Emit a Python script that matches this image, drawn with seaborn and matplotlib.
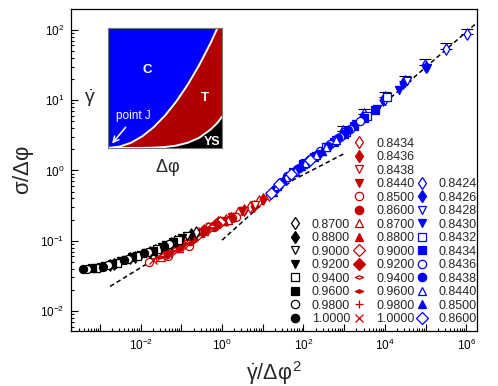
import numpy as np
import matplotlib
matplotlib.use('Agg')
import matplotlib.pyplot as plt
from matplotlib.lines import Line2D
from matplotlib.ticker import LogLocator, FuncFormatter, NullFormatter
import seaborn as sns

# ---- data ----
# black group (phi = 0.87 ... 1.0)
black_labels = ['0.8700', '0.8800', '0.9000', '0.9200', '0.9400', '0.9600', '0.9800', '1.0000']
black_x = [[2.24e-3, 7.1e-3, 0.0224, 0.071, 0.224],
           [1.74e-3, 5.5e-3, 0.0174, 0.055, 0.174],
           [1.35e-3, 4.3e-3, 0.0135, 0.043, 0.135],
           [1.05e-3, 3.3e-3, 0.0105, 0.033, 0.105],
           [8.1e-4, 2.57e-3, 8.1e-3, 0.0257, 0.081],
           [6.3e-4, 2.0e-3, 6.3e-3, 0.020, 0.063],
           [4.9e-4, 1.55e-3, 4.9e-3, 0.0155, 0.049],
           [3.8e-4, 1.2e-3, 3.8e-3, 0.012, 0.038]]
black_y = [[0.047, 0.059, 0.074, 0.098, 0.132],
           [0.045, 0.056, 0.069, 0.092, 0.123],
           [0.044, 0.054, 0.066, 0.087, 0.115],
           [0.043, 0.051, 0.063, 0.081, 0.108],
           [0.041, 0.048, 0.060, 0.076, 0.102],
           [0.041, 0.046, 0.058, 0.072, 0.095],
           [0.040, 0.045, 0.055, 0.069, 0.089],
           [0.040, 0.043, 0.054, 0.066, 0.085]]

# red group
red_labels = ['0.8434', '0.8436', '0.8438', '0.8440', '0.8500', '0.8600', '0.8700',
              '0.8800', '0.9000', '0.9200', '0.9400', '0.9600', '0.9800', '1.0000']
red_x = [[1.26, 2.51, 5.0, 8.3, 14.1],
         [0.79, 1.66, 3.55, 6.0, 10.0],
         [0.50, 1.0, 2.0, 3.55, 6.3],
         [0.25, 0.50, 1.0, 1.78, 3.16],
         [0.016, 0.047, 0.158, 0.63, 2.24],
         [0.112, 0.224, 0.447, 0.89, 1.78],
         [0.032, 0.089, 0.355, 0.71, 1.41],
         [0.071, 0.141, 0.28, 0.56, 1.12],
         [0.056, 0.112, 0.224, 0.447, 0.89],
         [0.045, 0.089, 0.178, 0.355, 0.71],
         [0.035, 0.071, 0.141, 0.28, 0.56],
         [0.028, 0.056, 0.112, 0.224, 0.447],
         [0.024, 0.048, 0.095, 0.19, 0.38],
         [0.020, 0.040, 0.079, 0.158, 0.316]]
red_y = [[0.20, 0.245, 0.30, 0.363, 0.447],
         [0.182, 0.214, 0.275, 0.316, 0.389],
         [0.158, 0.186, 0.219, 0.269, 0.324],
         [0.123, 0.158, 0.191, 0.219, 0.263],
         [0.050, 0.060, 0.085, 0.158, 0.219],
         [0.091, 0.120, 0.151, 0.186, 0.214],
         [0.058, 0.079, 0.138, 0.174, 0.20],
         [0.078, 0.100, 0.129, 0.162, 0.191],
         [0.072, 0.091, 0.117, 0.151, 0.186],
         [0.068, 0.085, 0.107, 0.141, 0.174],
         [0.063, 0.076, 0.100, 0.132, 0.162],
         [0.059, 0.072, 0.091, 0.120, 0.151],
         [0.056, 0.069, 0.085, 0.112, 0.145],
         [0.054, 0.065, 0.079, 0.105, 0.138]]

# blue group
blue_labels = ['0.8424', '0.8426', '0.8428', '0.8430', '0.8432', '0.8434',
               '0.8436', '0.8438', '0.8440', '0.8500', '0.8600']
blue_x = [[1.02e6, 3.16e5, 9.8e4, 3.16e4, 1.0e4, 3.0e3, 955],
          [1.05e5, 2.8e4, 8.9e3, 2.8e3],
          [3.55e4, 1.0e4, 3.16e3, 1.0e3],
          [1.07e5, 2.24e4, 6.3e3, 2.0e3, 631, 200],
          [1.12e4, 3.55e3, 1.12e3, 355, 112],
          [5.6e3, 3.16e3, 1.78e3, 1.0e3, 562, 178, 100, 56],
          [2.5e3, 1.41e3, 794, 447, 251, 141, 79, 28],
          [1.26e3, 708, 398, 224, 126, 71, 40, 20],
          [631, 355, 200, 112, 63, 38, 22.4],
          [282, 89, 31.6, 17.8],
          [141, 50, 25, 15.8]]
blue_y = [[87, 54, 32, 18.6, 11.0, 6.3, 3.6],
          [30, 17.4, 10.0, 5.5],
          [18.6, 9.8, 5.6, 3.16],
          [28.3, 13.8, 7.6, 4.6, 2.7, 1.62],
          [11.0, 6.0, 3.55, 2.14, 1.29],
          [7.2, 5.6, 4.3, 3.3, 2.57, 1.55, 1.23, 0.95],
          [5.1, 3.9, 3.0, 2.34, 1.86, 1.45, 1.10, 0.68],
          [3.7, 2.88, 2.24, 1.74, 1.35, 1.05, 0.83, 0.55],
          [2.75, 2.14, 1.66, 1.29, 0.98, 0.81, 0.60],
          [1.91, 1.15, 0.74, 0.50],
          [1.41, 0.89, 0.65, 0.47]]
blue_err_up = [17, 11, 6.5, 3.7, 2.2, 1.3, 0.7]

# dashed guide lines
guide1_x, guide1_y = [1.78e-3, 0.017], [0.0224, 0.050]
guide2_x, guide2_y = [1.0, 13.8, 55.6, 1050], [0.102, 0.40, 0.73, 1.76]
guide3_x, guide3_y = [1.0e4, 2.0e6], [9.2, 132]

# inset phase boundaries
inset_x = [0, 0.1, 0.2, 0.3, 0.4, 0.5, 0.6, 0.7, 0.8, 0.9, 0.96, 1.0]
inset_upper = [0, 0.011, 0.043, 0.097, 0.173, 0.27, 0.389, 0.529, 0.691, 0.875, 1.0, 1.08]
inset_lower = [0, 0, 0.0001, 0.0006, 0.0027, 0.008, 0.020, 0.044, 0.085, 0.154, 0.21, 0.26]

BLUE = '#0000ff'
RED = '#c40000'
DARKRED = '#b00000'
FLAT = [(-1, 0), (0, 0.42), (1, 0), (0, -0.42), (-1, 0)]

black_markers = ['d', 'd', 'v', 'v', 's', 's', 'o', 'o']
black_filled = [False, True, False, True, False, True, False, True]
red_markers = ['d', 'd', 'v', 'v', 'o', 'o', '^', '^', 'D', 'D', FLAT, FLAT, '+', 'x']
red_filled = [False, True, False, True, False, True, False, True, False, True, False, True, True, True]
blue_markers = ['d', 'd', 'v', 'v', 's', 's', 'o', 'o', '^', '^', 'D']
blue_filled = [False, True, False, True, False, True, False, True, False, True, False]

sns.set_style('ticks')
plt.rcParams['font.family'] = ['Liberation Sans', 'DejaVu Sans']
plt.rcParams['mathtext.fontset'] = 'custom'
plt.rcParams['mathtext.rm'] = 'Liberation Sans'
plt.rcParams['mathtext.it'] = 'Liberation Sans'
plt.rcParams['mathtext.bf'] = 'Liberation Sans:bold'

fig = plt.figure(figsize=(4.98, 3.86), dpi=100)
ax = fig.add_axes([0.1426, 0.1425, 0.8153, 0.8342])
ax.set_xscale('log')
ax.set_yscale('log')

for gx, gy in [(guide1_x, guide1_y), (guide2_x, guide2_y), (guide3_x, guide3_y)]:
    ax.plot(gx, gy, color='black', ls=(0, (3, 2)), lw=1.1, zorder=2)

ax.errorbar(blue_x[0], blue_y[0], yerr=[[0] * len(blue_err_up), blue_err_up],
            fmt='none', ecolor='black', elinewidth=0.8, capsize=4, capthick=0.8, zorder=2.5)


def draw_group(xs, ys, markers, filled, color):
    for x, y, m, f in zip(xs, ys, markers, filled):
        sns.scatterplot(x=x, y=y, ax=ax, marker=m, s=34,
                        color=color if f else 'white', edgecolor=color,
                        linewidth=0.9, legend=False, zorder=3)


draw_group(red_x, red_y, red_markers, red_filled, RED)
draw_group(black_x, black_y, black_markers, black_filled, 'black')
draw_group(blue_x, blue_y, blue_markers, blue_filled, BLUE)

ax.set_xlim(1.95e-4, 1.84e6)
ax.set_ylim(5.2e-3, 198)


def xfmt(v, pos):
    e = int(round(np.log10(v)))
    return r'$10^{%d}$' % e if e % 2 == 0 else ''


ax.xaxis.set_major_locator(LogLocator(base=10, numticks=20))
ax.xaxis.set_minor_locator(LogLocator(base=10, subs=np.arange(2, 10), numticks=20))
ax.xaxis.set_major_formatter(FuncFormatter(xfmt))
ax.xaxis.set_minor_formatter(NullFormatter())
ax.yaxis.set_major_locator(LogLocator(base=10, numticks=20))
ax.yaxis.set_minor_locator(LogLocator(base=10, subs=np.arange(2, 10), numticks=20))
ax.yaxis.set_minor_formatter(NullFormatter())
ax.tick_params(which='both', direction='in', top=False, right=False, width=0.8,
               labelsize=8.5, pad=5, colors='black')
ax.tick_params(which='major', length=5)
ax.tick_params(which='minor', length=2.5)
for sp in ax.spines.values():
    sp.set_linewidth(0.9)
    sp.set_color('black')

ax.set_xlabel(r'$\dot{\gamma}/\Delta\varphi^2$', fontsize=15.5, labelpad=4)
ax.set_ylabel(r'$\sigma/\Delta\varphi$', fontsize=16, labelpad=3)


def handles(markers, filled, color):
    return [Line2D([], [], ls='none', marker=m, markersize=6, markeredgewidth=0.9,
                   markeredgecolor=color, markerfacecolor=color if f else 'white')
            for m, f in zip(markers, filled)]


legend_kw = dict(loc='lower left', frameon=False, fontsize=9, handlelength=1.0,
                 handletextpad=0.86, labelspacing=0.12, borderpad=0, borderaxespad=0)
leg1 = ax.legend(handles(black_markers, black_filled, 'black'), black_labels,
                 bbox_to_anchor=(0.536, 0.018), **legend_kw)
ax.add_artist(leg1)
leg2 = ax.legend(handles(red_markers, red_filled, RED), red_labels,
                 bbox_to_anchor=(0.695, 0.018), **legend_kw)
ax.add_artist(leg2)
ax.legend(handles(blue_markers, blue_filled, BLUE), blue_labels,
          bbox_to_anchor=(0.849, 0.018), **legend_kw)

# inset: schematic phase diagram
ins = fig.add_axes([0.2169, 0.6166, 0.2289, 0.3109])
ins.fill_between(inset_x, 0, 1.2, color=BLUE, lw=0)
ins.fill_between(inset_x, inset_lower, inset_upper, color=DARKRED, lw=0)
ins.fill_between(inset_x, 0, inset_lower, color='black', lw=0)
ins.plot(inset_x, inset_upper, color='white', lw=1.4)
ins.plot(inset_x, inset_lower, color='white', lw=1.4)
ins.set_xlim(0, 1)
ins.set_ylim(0, 1)
ins.set_xticks([])
ins.set_yticks([])
for sp in ins.spines.values():
    sp.set_color('#777777')
    sp.set_linewidth(0.8)
ins.text(0.34, 0.65, 'C', color='white', fontsize=9.5, fontweight='bold', ha='center', va='center')
ins.text(0.85, 0.42, 'T', color='white', fontsize=9.5, fontweight='bold', ha='center', va='center')
ins.text(0.91, 0.05, 'YS', color='white', fontsize=9, fontweight='bold', ha='center', va='center')
ins.text(0.22, 0.265, 'point J', color='white', fontsize=8.5, ha='center', va='center')
ins.annotate('', xy=(0.02, 0.02), xytext=(0.17, 0.19),
             arrowprops=dict(arrowstyle='->', color='white', lw=1.1))

fig.text(90 / 498, 1 - 98 / 386, r'$\dot{\gamma}$', fontsize=14, ha='center', va='center')
fig.text(167 / 498, 1 - 168 / 386, r'$\Delta\varphi$', fontsize=13, ha='center', va='center')

fig.savefig('out.png', dpi=100)
